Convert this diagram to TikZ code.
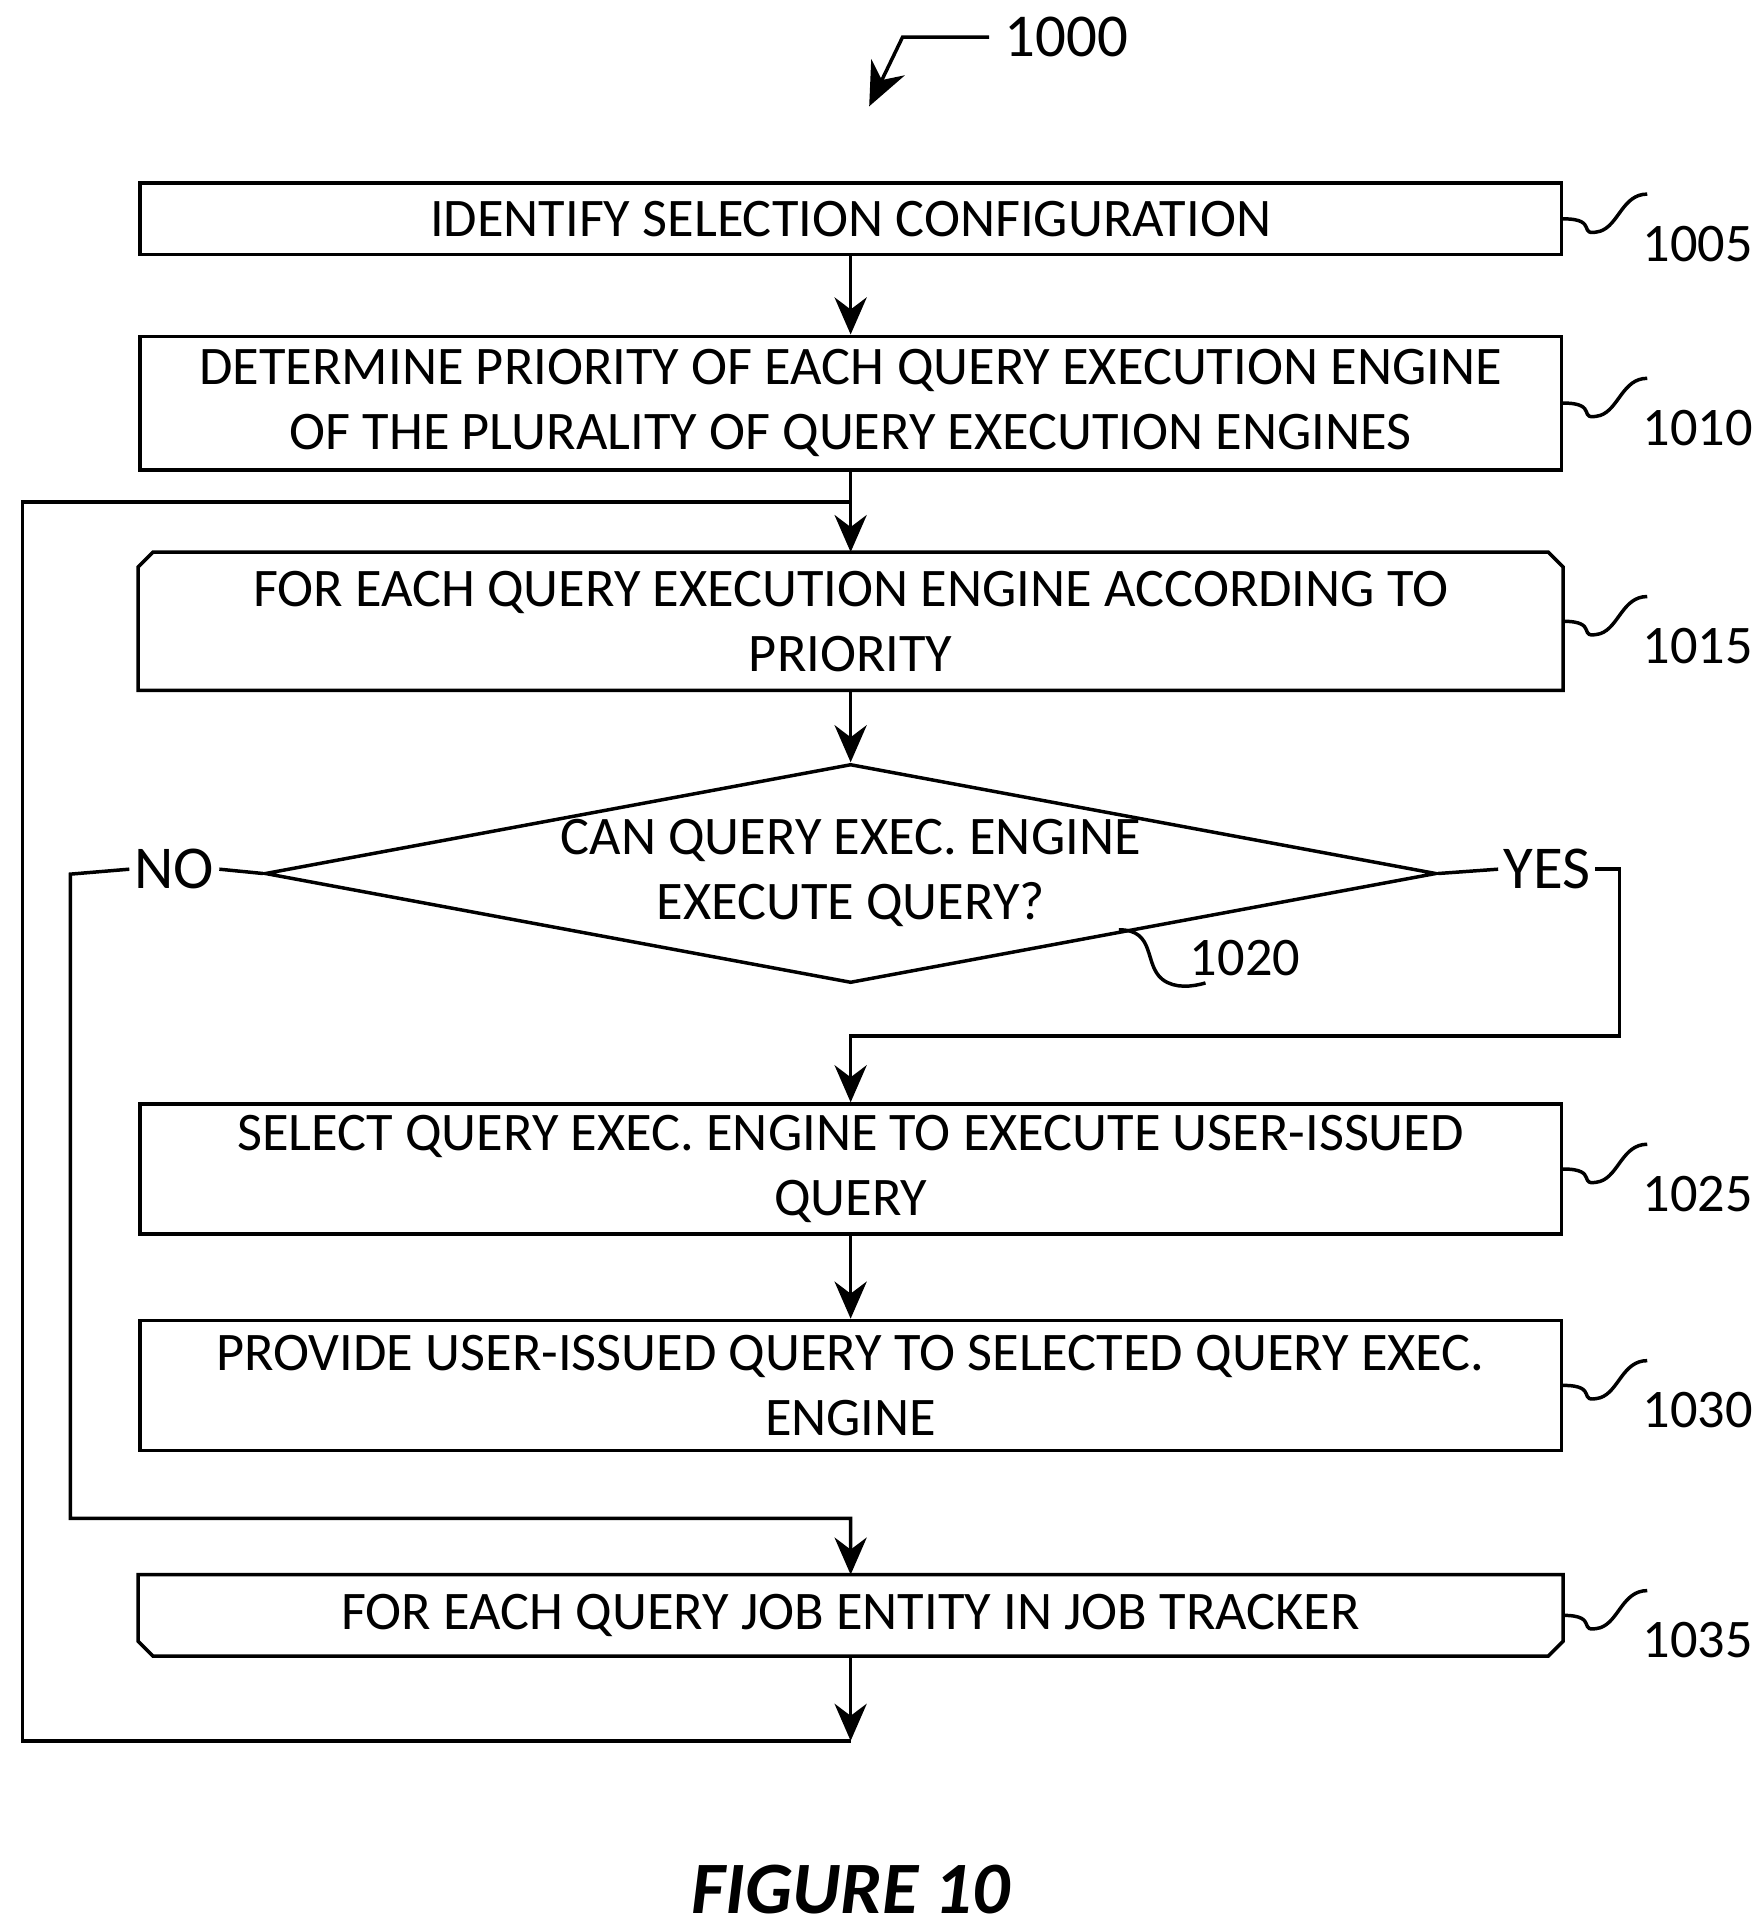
\documentclass[tikz,border=0pt]{standalone}
\usepackage{fontspec}
\setmainfont{Carlito}
\usetikzlibrary{arrows.meta,positioning,shapes.geometric,shapes.misc}
\tikzset{
  stepbox/.style={draw, thick, minimum width=11.49cm, align=center, font=\fontsize{12.5}{15}\selectfont, inner sep=0pt},
  flow/.style={thick, -{Stealth[length=3mm,width=2.6mm]}},
  refno/.style={font=\fontsize{12.5}{15}\selectfont, anchor=west},
  squig/.style={thick}
}
\newcommand{\squiggle}[2]{%
  \draw[squig] (#1.east) .. controls +(0.3cm,0cm) and +(-0.2cm,-0.05cm) .. +(0.3cm,-0.1cm)
     .. controls +(0.15cm,0.05cm) and +(-0.2cm,0cm) .. +(0.68cm,0.2cm);
  \node[refno] at ([xshift=0.52cm,yshift=-0.2cm]#1.east) {#2};}
\begin{document}
\begin{tikzpicture}[x=0.01cm,y=-0.01cm]
\useasboundingbox (0,0) rectangle (1420,1561);

% steps
\node[stepbox, minimum height=0.58cm] (s1005) at (688,177) {IDENTIFY SELECTION CONFIGURATION};
\node[stepbox, minimum height=1.08cm] (s1010) at (688,326) {DETERMINE PRIORITY OF EACH QUERY EXECUTION ENGINE\\OF THE PLURALITY OF QUERY EXECUTION ENGINES};
\node[stepbox, draw=none, minimum height=1.09cm] (s1015) at (688,502.5) {FOR EACH QUERY EXECUTION ENGINE ACCORDING TO\\PRIORITY};
\draw[thick] ([yshift=-0.12cm]s1015.north west) -- ([xshift=0.12cm]s1015.north west) -- ([xshift=-0.12cm]s1015.north east) -- ([yshift=-0.12cm]s1015.north east) -- (s1015.south east) -- (s1015.south west) -- cycle;
\node[diamond, draw, thick, minimum width=9.47cm, minimum height=1.77cm, inner sep=0pt, aspect=5.3] (d1020) at (688,706.5) {};
\node[align=center, font=\fontsize{12.5}{15}\selectfont] (t1020) at (688,706) {CAN QUERY EXEC. ENGINE\\EXECUTE QUERY?};
\node[stepbox, minimum height=1.05cm] (s1025) at (688,945.5) {SELECT QUERY EXEC. ENGINE TO EXECUTE USER-ISSUED\\QUERY};
\node[stepbox, minimum height=1.05cm] (s1030) at (688,1120.5) {PROVIDE USER-ISSUED QUERY TO SELECTED QUERY EXEC.\\ENGINE};
\node[stepbox, draw=none, minimum height=0.63cm] (s1035) at (688,1306.5) {FOR EACH QUERY JOB ENTITY IN JOB TRACKER};
\draw[thick] (s1035.north west) -- (s1035.north east) -- ([yshift=0.12cm]s1035.south east) -- ([xshift=-0.12cm]s1035.south east) -- ([xshift=0.12cm]s1035.south west) -- ([yshift=0.12cm]s1035.south west) -- cycle;

% labels on branches
\node[font=\fontsize{14}{16}\selectfont, inner sep=1pt] (no) at (141,703) {NO};
\node[font=\fontsize{14}{16}\selectfont, inner sep=1pt] (yes) at (1251,703) {YES};
\coordinate (nocorner) at (57,707);
\coordinate (nojoin) at (688,1228);
\coordinate (yescorner) at (1310,707);
\coordinate (yesjoin) at (688,838);
\coordinate (loopend) at (688,1408);
\coordinate (looptop) at (688,406);

% connectors
\draw[flow] (s1005) -- (s1010);
\draw[flow] (s1010) -- (s1015);
\draw[flow] (s1015) -- (d1020);
\draw[flow] (s1025) -- (s1030);
\draw[thick] (d1020.west) -- (no.east);
\draw[flow] (no.west) -- (nocorner) |- (nojoin) -- (s1035.north);
\draw[thick] (d1020.east) -- (yes.west);
\draw[flow] (yes.east) -| (yescorner |- yesjoin) -- (yesjoin) -- (s1025.north);
\draw[flow] (s1035.south) -- (loopend);
\draw[thick] (loopend) -- (18,1408) -- (18,406) -- (looptop);

% reference numerals
\squiggle{s1005}{1005}
\squiggle{s1010}{1010}
\squiggle{s1015}{1015}
\squiggle{s1025}{1025}
\squiggle{s1030}{1030}
\squiggle{s1035}{1035}
\coordinate (r1020) at (905,752);
\draw[squig] (r1020) .. controls (935,752) and (925,780) .. (940,792) .. controls (950,800) and (965,798) .. (975,795);
\node[refno] (n1020) at (950,775) {1020};

% figure number
\node[font=\fontsize{14}{16}\selectfont, anchor=west] (n1000) at (800,30) {1000};
\draw[thick, -{Stealth[length=3.5mm,width=3mm]}] (n1000.west) -- (730,30) -- (703,86);
\node[font=\bfseries\itshape\fontsize{17}{20}\selectfont] (fig) at (688,1528) {FIGURE 10};
\end{tikzpicture}
\end{document}
